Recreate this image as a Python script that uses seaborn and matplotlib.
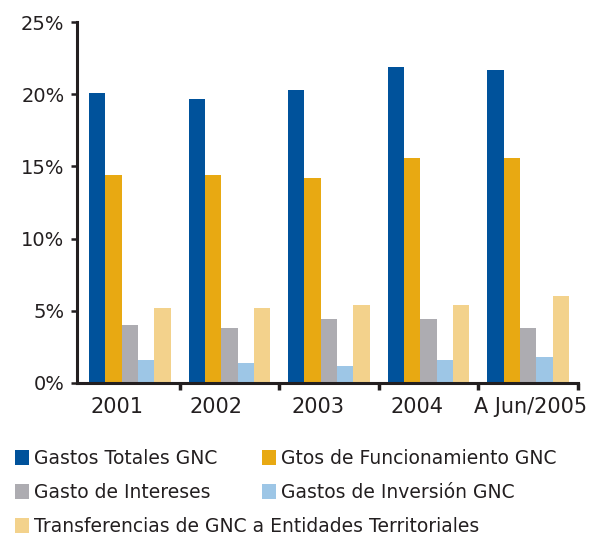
import numpy as np
import pandas as pd
import matplotlib
matplotlib.use("Agg")
import matplotlib.pyplot as plt
import seaborn as sns
from matplotlib.ticker import PercentFormatter

# Data (share, %)
periodos = ["2001", "2002", "2003", "2004", "A Jun/2005"]
series = [
    "Gastos Totales GNC",
    "Gtos de Funcionamiento GNC",
    "Gasto de Intereses",
    "Gastos de Inversión GNC",
    "Transferencias de GNC a Entidades Territoriales",
]
totales = [20.1, 19.7, 20.3, 21.9, 21.7]
funcionamiento = [14.4, 14.4, 14.2, 15.6, 15.6]
intereses = [4.0, 3.8, 4.4, 4.4, 3.8]
inversion = [1.6, 1.4, 1.2, 1.6, 1.8]
transferencias = [5.2, 5.2, 5.4, 5.4, 6.0]
colores = ["#00529B", "#E8A912", "#ADACB1", "#9DC6E6", "#F3D28C"]

df = pd.DataFrame({
    "periodo": periodos * 5,
    "serie": np.repeat(series, len(periodos)),
    "valor": totales + funcionamiento + intereses + inversion + transferencias,
})

sns.set_style("white")
plt.rcParams["font.family"] = ["DejaVu Sans"]

W, H = 595, 536
fig = plt.figure(figsize=(W / 100, H / 100), dpi=100)
ax = fig.add_axes([77 / W, 1 - 383 / H, (578 - 77) / W, (383 - 22) / H])

sns.barplot(data=df, x="periodo", y="valor", hue="serie", hue_order=series,
            palette=colores, saturation=1, width=0.82, linewidth=0,
            legend=False, ax=ax)

dark = "#231f20"
ax.set_xlim(-0.53, 4.47)
ax.set_ylim(0, 25)
ax.set_yticks([0, 5, 10, 15, 20, 25])
ax.yaxis.set_major_formatter(PercentFormatter(decimals=0))
ax.set_xlabel("")
ax.set_ylabel("")
sns.despine(ax=ax)
for s in ["left", "bottom"]:
    ax.spines[s].set_linewidth(2.2)
    ax.spines[s].set_color(dark)

# tick marks at category boundaries, labels slightly left of centre
ax.set_xticks(np.arange(5) + 0.5)
ax.set_xticklabels([])
ax.set_xticks([-0.13, 0.87, 1.89, 2.88, 4.02], minor=True)
ax.set_xticklabels(periodos, minor=True)
ax.tick_params(axis="x", which="major", length=5, width=2.5, color=dark, direction="out")
ax.tick_params(axis="x", which="minor", length=0, pad=10, labelsize=15, labelcolor=dark)
ax.tick_params(axis="y", length=4, width=1.8, color=dark, direction="out",
               pad=5, labelsize=14, labelcolor=dark)
ax.tick_params(left=True, bottom=True)

# legend: two columns placed by hand
conts = ax.containers
kw = dict(frameon=False, fontsize=13.5, handlelength=0.75, handleheight=0.85,
          handletextpad=0.25, labelspacing=0.8, borderpad=0, borderaxespad=0,
          loc="upper left", labelcolor=dark)
fig.legend([conts[0], conts[2], conts[4]], [series[0], series[2], series[4]],
           bbox_to_anchor=(15 / W, 1 - 449 / H), **kw)
fig.legend([conts[1], conts[3]], [series[1], series[3]],
           bbox_to_anchor=(262 / W, 1 - 449 / H), **kw)

fig.savefig("out.png", dpi=100)
